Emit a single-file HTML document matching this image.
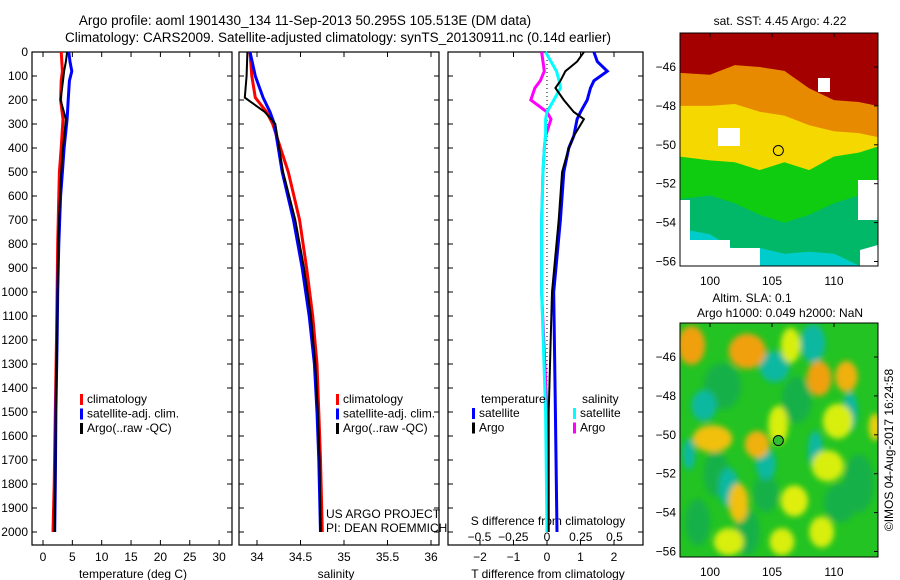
<!DOCTYPE html>
<html><head><meta charset="utf-8"><style>
body{margin:0;background:#fff}
svg{display:block;font-family:"Liberation Sans",sans-serif}
</style></head><body>
<svg id="c" width="900" height="580" viewBox="0 0 900 580">
<text x="305" y="25" font-size="13.5" text-anchor="middle">Argo profile: aoml 1901430_134 11-Sep-2013 50.295S 105.513E (DM data)</text>
<text x="338" y="42" font-size="13.5" text-anchor="middle">Climatology: CARS2009. Satellite-adjusted climatology: synTS_20130911.nc (0.14d earlier)</text>
<g id="root"></g>
</svg>
<script>
// ---- data ----
const depthT = [0,40,80,120,200,280,400,500,600,800,1000,1200,1500,1800,2000];
const tClim  = [3.1,3.2,3.3,3.1,3.0,3.4,3.1,2.8,2.7,2.5,2.4,2.3,2.1,1.9,1.7];
const tSat   = [4.4,4.6,4.9,4.5,4.3,4.1,3.6,3.3,3.0,2.7,2.5,2.4,2.2,2.1,2.0];
const tArgo  = [4.1,3.9,3.6,3.4,3.0,3.9,3.4,3.1,2.9,2.6,2.5,2.4,2.2,2.1,2.0];
const depthS = [0,100,190,250,300,500,700,900,1100,1300,1500,1700,2000];
const sClim  = [33.92,33.94,33.98,34.11,34.18,34.36,34.49,34.57,34.64,34.69,34.71,34.73,34.75];
const sSat   = [33.92,33.98,34.07,34.15,34.20,34.29,34.42,34.52,34.6,34.66,34.69,34.71,34.73];
const sArgo  = [33.89,33.88,33.86,34.09,34.21,34.30,34.44,34.54,34.62,34.67,34.70,34.72,34.73];
const depthD = [0,40,80,120,150,200,250,280,350,400,500,700,1000,1500,2000];
const dTSat  = [1.4,1.5,1.8,1.4,1.3,1.2,1.0,0.9,0.8,0.65,0.5,0.4,0.2,0.25,0.3];
const dTArgo = [1.1,0.9,0.55,0.4,0.25,0.5,0.8,1.1,0.8,0.65,0.45,0.35,0.15,0.05,0.05];
const dSSat  = [-0.01,0.03,0.07,0.09,0.1,0.05,0.0,-0.01,-0.01,-0.02,-0.03,-0.04,-0.04,-0.01,0.0];
const dSArgo = [-0.04,-0.03,-0.02,-0.05,-0.09,-0.12,0.0,0.03,-0.01,-0.02,-0.03,-0.04,-0.04,0.0,0.0];
const depthTicks = [0,100,200,300,400,500,600,700,800,900,1000,1100,1200,1300,1400,1500,1600,1700,1800,1900,2000];
const tTicks = [0,5,10,15,20,25,30];
const sTicks = [34,34.5,35,35.5,36];
const sTickLabels = ["34","34.5","35","35.5","36"];
const dTTicks = [-2,-1,0,1,2];
const dSTicks = [-0.5,-0.25,0,0.25,0.5];
const dSTickLabels = ["\u22120.5","\u22120.25","0","0.25","0.5"];
const latTicks = [-46,-48,-50,-52,-54,-56];
const lonTicks = [100,105,110];
const bandLon = [97.5,100,102,104,106,108,110,112,113.5];
const bandRed    = [-46.3,-46.4,-45.9,-46.0,-46.2,-47.1,-47.7,-47.8,-48.0];
const bandOrange = [-48.0,-48.0,-47.9,-48.3,-48.5,-49.0,-49.3,-49.4,-49.6];
const bandYellow = [-50.6,-50.8,-50.9,-51.3,-50.9,-51.3,-50.6,-50.4,-50.1];
const bandGreen  = [-52.8,-52.6,-53.0,-53.6,-54.0,-53.6,-53.0,-52.6,-52.5];
const bandTeal   = [-54.3,-54.6,-55.4,-55.3,-55.6,-55.5,-55.6,-56.2,-56.3];
const sstColors  = ["#a50000","#e88a00","#f4d800","#10cc10","#00b868","#00cccc"];
const slaLon = [98.5,103,108.8,111,106.5,100.2,103.8,102.3,110.3,105.5,109.5,101.5,105.8,106.8,109,113.3];
const slaLat = [-45.4,-45.7,-47.1,-47.0,-45.4,-50.2,-50.5,-53.5,-49.3,-49.5,-51.6,-55.5,-55.5,-53.4,-55.0,-49.6];
const slaRx  = [1.1,1.5,1.0,0.9,0.8,1.6,1.0,0.8,1.2,0.8,1.3,1.2,1.0,1.1,1.0,0.5];
const slaRy  = [1.0,0.9,0.9,0.8,0.9,0.7,0.7,1.0,0.9,1.0,0.8,0.7,0.7,0.8,0.8,0.7];
const slaCol = ["#f0a010","#f0a010","#f0a010","#f0b010","#d8ee10","#f0c010","#f0b010","#f0c010","#d8ee10","#d8ee10","#d8ee10","#d8ee10","#d8ee10","#e0ee10","#d8ee10","#e8d010"];
const slaBlueLon = [108.3,105.2,99.5,101.5,111.3,104.5,98.3,108.5];
const slaBlueLat = [-45.3,-46.5,-48.5,-52.7,-48.8,-51.5,-51.0,-50.8];
const slaBlueRx  = [1.0,1.2,1.0,0.8,0.6,0.8,0.5,0.6];
const slaBlueRy  = [1.0,0.8,0.8,1.0,1.0,0.8,0.8,1.0];
const slaDarkLon = [101,107,112,103,99,110.5,104.5,100.5];
const slaDarkLat = [-47.5,-48.2,-52.5,-55.0,-54.5,-53.5,-53.0,-52.0];
const slaDarkRx  = [1.5,1.2,1.2,1.0,1.0,1.3,1.0,1.0];
const slaDarkRy  = [1.2,1.2,1.5,1.2,1.2,1.0,1.0,1.2];

// ---- helpers ----
const NS="http://www.w3.org/2000/svg";
const root=document.getElementById('root');
function el(tag,attrs,parent){const e=document.createElementNS(NS,tag);for(const k in attrs)e.setAttribute(k,attrs[k]);(parent||root).appendChild(e);return e;}
function txt(x,y,s,size,anchor,parent){const t=el('text',{x:x,y:y,'font-size':size,'text-anchor':anchor||'middle'},parent);t.textContent=s;return t;}
const yTop=52, yPer=0.24;
function yD(d){return yTop+d*yPer;}
function xT(v){return 43+v*5.87;}
function xS(v){return 257+(v-34)*87;}
function xDT(v){return 547+v*33.5;}
function xDS(v){return 547+v*135;}

function panel(x0,x1,name){
  const f=el('rect',{x:x0,y:52,width:x1-x0,height:493,fill:'none',stroke:'#000','stroke-width':1.2});
  
  
  depthTicks.forEach(d=>{el('line',{x1:x0,x2:x0+5,y1:yD(d),y2:yD(d),stroke:'#000'});el('line',{x1:x1,x2:x1-5,y1:yD(d),y2:yD(d),stroke:'#000'});});
}
function line(depths,vals,xf,color,w,name){
  const pts=depths.map((d,i)=>xf(vals[i]).toFixed(1)+','+yD(d).toFixed(1)).join(' ');
  const p=el('polyline',{points:pts,fill:'none',stroke:color,'stroke-width':w,'stroke-linejoin':'miter'});
  
  
}
function legend(x,y,items,parent){
  items.forEach((it,i)=>{
    el('rect',{x:x,y:y+i*14.5-9,width:3,height:11,fill:it[1]});
    txt(x+7,y+i*14.5,it[0],12,'start');
  });
}

// ---- panel 1 temperature ----
panel(32,232,'temperature-panel');
depthTicks.forEach(d=>{txt(28,yD(d)+4,String(d),12,'end');});
tTicks.forEach(v=>{el('line',{x1:xT(v),x2:xT(v),y1:52,y2:57,stroke:'#000'});el('line',{x1:xT(v),x2:xT(v),y1:545,y2:540,stroke:'#000'});txt(xT(v),561,String(v),12);});
txt(133,578,'temperature (deg C)',12);
line(depthT,tClim,xT,'#f00',3,'temperature-climatology-line');
line(depthT,tSat,xT,'#00f',3,'temperature-satellite-line');
line(depthT,tArgo,xT,'#000',2,'temperature-argo-line');
legend(80,403,[['climatology','#f00'],['satellite-adj. clim.','#00f'],['Argo(..raw -QC)','#000']]);

// ---- panel 2 salinity ----
panel(239,439,'salinity-panel');
sTicks.forEach((v,i)=>{el('line',{x1:xS(v),x2:xS(v),y1:52,y2:57,stroke:'#000'});el('line',{x1:xS(v),x2:xS(v),y1:545,y2:540,stroke:'#000'});txt(xS(v),561,sTickLabels[i],12);});
txt(336,578,'salinity',12);
line(depthS,sClim,xS,'#f00',3,'salinity-climatology-line');
line(depthS,sSat,xS,'#00f',3,'salinity-satellite-line');
line(depthS,sArgo,xS,'#000',2,'salinity-argo-line');
legend(336,403,[['climatology','#f00'],['satellite-adj. clim.','#00f'],['Argo(..raw -QC)','#000']]);
txt(326,518,'US ARGO PROJECT',12,'start');
txt(326,532,'PI: DEAN ROEMMICH',12,'start');

// ---- panel 3 differences ----
panel(448,643,'difference-panel');
el('line',{x1:547,x2:547,y1:52,y2:470,stroke:'#000','stroke-dasharray':'1,3'});
dTTicks.forEach(v=>{el('line',{x1:xDT(v),x2:xDT(v),y1:52,y2:57,stroke:'#000'});el('line',{x1:xDT(v),x2:xDT(v),y1:545,y2:540,stroke:'#000'});txt(xDT(v),561,v<0?'\u2212'+(-v):String(v),12);});
dSTicks.forEach((v,i)=>{txt(xDS(v),541,dSTickLabels[i],12);});
txt(548,525,'S difference from climatology',12);
txt(548,578,'T difference from climatology',12);
line(depthD,dSArgo,xDS,'#f0f',3,'salinity-argo-diff-line');
line(depthD,dSSat,xDS,'#0ff',3,'salinity-satellite-diff-line');
line(depthD,dTSat,xDT,'#00f',3,'temperature-satellite-diff-line');
line(depthD,dTArgo,xDT,'#000',2,'temperature-argo-diff-line');
txt(481,403,'temperature',12,'start');
legend(472,417,[['satellite','#00f'],['Argo','#000']]);
txt(582,403,'salinity',12,'start');
legend(573,417,[['satellite','#0ff'],['Argo','#f0f']]);

// ---- maps ----
function lonX(v){return 710+(v-100)*12.4;}
function mapAxes(yLat46,name){
  const latY=v=>yLat46+(-46-v)*19.45;
  const g=el('g',{});
  
  
  return {g,latY};
}
(function(){
  const m=mapAxes(67,'sst-map');const latY=m.latY;
  const clip=el('clipPath',{id:'c1'});el('rect',{x:680,y:33,width:198,height:233},clip);
  const g=el('g',{'clip-path':'url(#c1)'},m.g);
  const bands=[bandRed,bandOrange,bandYellow,bandGreen,bandTeal];
  el('rect',{x:680,y:33,width:198,height:233,fill:sstColors[5]},g);
  for(let b=bands.length-1;b>=0;b--){
    const pts=['680,33','878,33'].concat(bandLon.slice().reverse().map((l,i)=>lonX(l).toFixed(1)+','+latY(bands[b][bandLon.length-1-i]).toFixed(1)));
    const p=el('polygon',{points:pts.join(' '),fill:sstColors[b]},g);
    
    
  }
  el('polygon',{points:'680,205 690,205 690,240 730,240 730,248 760,248 760,266 680,266',fill:'#fff'},g);
  el('polygon',{points:'860,250 878,245 878,266 860,266',fill:'#fff'},g);
  el('rect',{x:718,y:128,width:22,height:18,fill:'#fff'},g);
  el('rect',{x:680,y:200,width:10,height:30,fill:'#fff'},g);
  el('rect',{x:858,y:180,width:20,height:40,fill:'#fff'},g);
  el('rect',{x:818,y:78,width:12,height:14,fill:'#fff'},g);
  el('circle',{cx:lonX(105.513),cy:latY(-50.295),r:5,fill:'none',stroke:'#000'},m.g);
  el('rect',{x:680,y:33,width:198,height:233,fill:'none',stroke:'#000'},m.g);
  latTicks.forEach(v=>{txt(676,latY(v)+4,'\u2212'+(-v),12,'end',m.g);el('line',{x1:878,x2:874,y1:latY(v),y2:latY(v),stroke:'#000'},m.g);});
  lonTicks.forEach(v=>{txt(lonX(v),285,String(v),12,'middle',m.g);el('line',{x1:lonX(v),x2:lonX(v),y1:33,y2:37,stroke:'#000'},m.g);});
  txt(780,25,'sat. SST: 4.45 Argo: 4.22',12,'middle',m.g);
})();
(function(){
  const m=mapAxes(357,'sla-map');const latY=m.latY;
  const clip=el('clipPath',{id:'c2'});el('rect',{x:680,y:323,width:198,height:234},clip);
  const defs=el('defs',{});
  const flt=el('filter',{id:'bl',x:'-50%',y:'-50%',width:'200%',height:'200%'},defs);el('feGaussianBlur',{stdDeviation:3},flt);
  const g=el('g',{'clip-path':'url(#c2)'},m.g);
  el('rect',{x:680,y:323,width:198,height:234,fill:'#22c322'},g);
  const gb=el('g',{filter:'url(#bl)'},g);
  slaDarkLon.forEach((l,i)=>{const e=el('ellipse',{cx:lonX(l),cy:latY(slaDarkLat[i]),rx:slaDarkRx[i]*12.4,ry:slaDarkRy[i]*19.45,fill:'#14b048'},gb);
    
    });
  slaBlueLon.forEach((l,i)=>{const e=el('ellipse',{cx:lonX(l),cy:latY(slaBlueLat[i]),rx:slaBlueRx[i]*12.4,ry:slaBlueRy[i]*19.45,fill:'#10b8a0'},gb);
    
    });
  slaLon.forEach((l,i)=>{const e=el('ellipse',{cx:lonX(l),cy:latY(slaLat[i]),rx:slaRx[i]*12.4,ry:slaRy[i]*19.45,fill:slaCol[i]},gb);
    
    });
  el('circle',{cx:lonX(105.513),cy:latY(-50.295),r:5,fill:'#30c030',stroke:'#000'},m.g);
  el('rect',{x:680,y:323,width:198,height:234,fill:'none',stroke:'#000'},m.g);
  latTicks.forEach(v=>{txt(676,latY(v)+4,'\u2212'+(-v),12,'end',m.g);el('line',{x1:878,x2:874,y1:latY(v),y2:latY(v),stroke:'#000'},m.g);});
  lonTicks.forEach(v=>{txt(lonX(v),576,String(v),12,'middle',m.g);el('line',{x1:lonX(v),x2:lonX(v),y1:323,y2:327,stroke:'#000'},m.g);});
  txt(752,302,'Altim. SLA: 0.1',12,'middle',m.g);
  txt(780,317,'Argo h1000: 0.049 h2000: NaN',12,'middle',m.g);
  const r=txt(0,0,'\u00A9IMOS 04-Aug-2017 16:24:58',12,'middle',m.g);
  r.setAttribute('transform','translate(893,450) rotate(-90)');
  
  
})();
</script>
</body></html>
